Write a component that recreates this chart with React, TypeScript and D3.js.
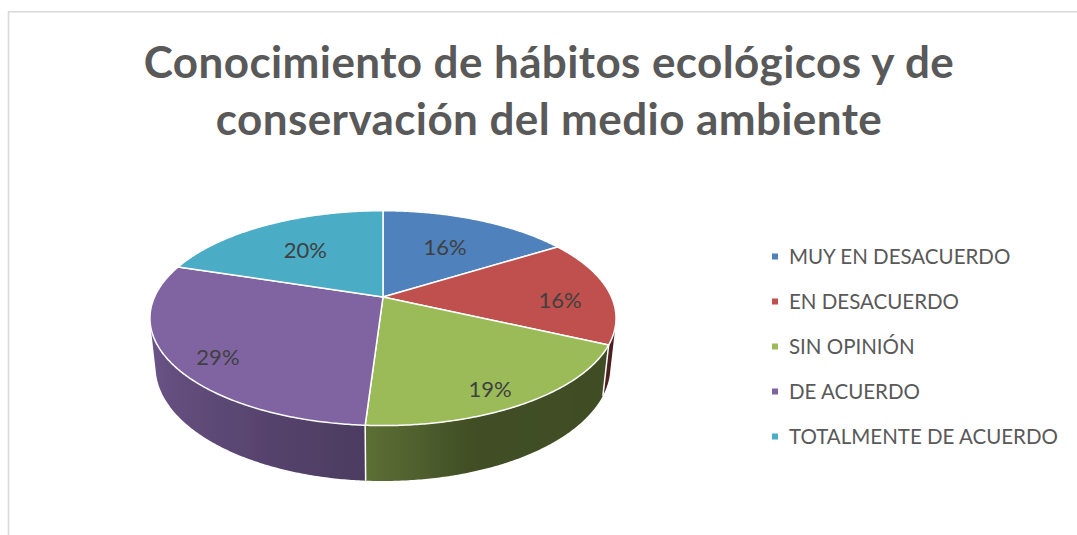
import React from 'react';
import * as d3 from 'd3';

const categories = ['MUY EN DESACUERDO', 'EN DESACUERDO', 'SIN OPINIÓN', 'DE ACUERDO', 'TOTALMENTE DE ACUERDO'];
const values = [16, 16, 19, 29, 20];
const colors = ['#4F81BD', '#C0504D', '#9BBB59', '#8064A2', '#4BACC6'];
const titleLines = ['Conocimiento de hábitos ecológicos y de', 'conservación del medio ambiente'];

const W = 1077, HGT = 535;
const FONT = 'Lato, "Open Sans", sans-serif';

// 3D perspective camera
const sinA = 0.452, cosA = Math.sqrt(1 - sinA * sinA);
const DIST = 4.53, FOC = 1035, DEPTH = 0.24;
const CX = 383, CY = 297;

function proj(phi: number, r: number, y: number): [number, number] {
  const x = r * Math.sin(phi);
  const z = -r * Math.cos(phi);
  const yu = y * cosA - z * sinA;
  const d = DIST - (y * sinA + z * cosA);
  return [CX + (FOC * x) / d, CY - (FOC * yu) / d];
}

// side lighting as a function of angle (degrees)
const shade = d3.scaleLinear<number>().domain([104, 162, 184, 256]).range([0.4, 0.42, 0.6, 0.86]).clamp(true);

function shadeColor(base: string, phi: number) {
  const c = d3.rgb(base);
  const k = shade((phi * 180) / Math.PI);
  return d3.rgb(c.r * k, c.g * k, c.b * k).formatHex();
}

export default function App() {
  const arcs = d3.pie<number>().sort(null).value((d) => d)(values);
  const visMin = Math.acos(-1 / (DIST * cosA));
  const visMax = 2 * Math.PI - visMin;
  const step = Math.PI / 360;

  const sample = (a0: number, a1: number) => {
    const n = Math.max(2, Math.ceil((a1 - a0) / step));
    return d3.range(n + 1).map((i) => a0 + ((a1 - a0) * i) / n);
  };

  const sides: any[] = [];
  const seams: any[] = [];
  arcs.forEach((a, i) => {
    const s = Math.max(a.startAngle, visMin);
    const e = Math.min(a.endAngle, visMax);
    if (e <= s) return;
    const angs = sample(s, e);
    const top = angs.map((p) => proj(p, 1, 0));
    const bot = angs.slice().reverse().map((p) => proj(p, 1, -DEPTH));
    const path = 'M' + top.concat(bot).map((p) => p.join(',')).join('L') + 'Z';
    const xs = angs.map((p) => proj(p, 1, 0)[0]);
    const x1 = xs[0], x2 = xs[xs.length - 1];
    const stops = angs
      .filter((_, k) => k % 6 === 0 || k === angs.length - 1)
      .map((p) => ({ off: (proj(p, 1, 0)[0] - x1) / (x2 - x1 || 1), col: shadeColor(colors[i], p) }));
    sides.push({ path, x1, x2, stops, id: 'side' + i });
    if (a.startAngle > visMin && a.startAngle < visMax) {
      seams.push([proj(a.startAngle, 1, 0), proj(a.startAngle, 1, -DEPTH)]);
    }
  });

  const tops = arcs.map((a, i) => {
    const pts = sample(a.startAngle, a.endAngle).map((p) => proj(p, 1, 0));
    const c = proj(0, 0, 0);
    return { path: 'M' + [c].concat(pts).map((p) => p.join(',')).join('L') + 'Z', color: colors[i] };
  });

  const labels = arcs.map((a) => {
    const mid = (a.startAngle + a.endAngle) / 2;
    const back = Math.max(0, Math.cos(mid));
    const r = 0.8 - 0.2 * back;
    const [x, y] = proj(mid, r, -0.045 * (1 - back));
    return { x, y, text: Math.round(a.value) + '%' };
  });

  const legendY = d3.scalePoint<string>().domain(categories).range([256.5, 436.5]);

  return (
    <svg width={W} height={HGT} style={{ position: 'fixed', left: 0, top: 0, background: '#fff' }}>
      <defs>
        {sides.map((s) => (
          <linearGradient key={s.id} id={s.id} gradientUnits="userSpaceOnUse" x1={s.x1} x2={s.x2} y1={0} y2={0}>
            {s.stops.map((st: any, k: number) => (
              <stop key={k} offset={Math.min(1, Math.max(0, st.off))} stopColor={st.col} />
            ))}
          </linearGradient>
        ))}
      </defs>
      <rect x={0} y={0} width={W} height={HGT} fill="#fff" />
      <path d={`M8.5,${HGT}L8.5,11.75L${W},11.75`} fill="none" stroke="#d9d9d9" strokeWidth={1.6} />
      {titleLines.map((t, i) => (
        <text key={i} x={549} y={78 + i * 57} textAnchor="middle" fontFamily={FONT} fontWeight={700} fontSize={44} letterSpacing={0.4} fill="#595959">
          {t}
        </text>
      ))}
      {sides.map((s) => (
        <path key={s.id} d={s.path} fill={`url(#${s.id})`} />
      ))}
      {seams.map((s, i) => (
        <line key={i} x1={s[0][0]} y1={s[0][1]} x2={s[1][0]} y2={s[1][1]} stroke="#fff" strokeWidth={1.5} />
      ))}
      {tops.map((t, i) => (
        <path key={i} d={t.path} fill={t.color} stroke="#fff" strokeWidth={1.5} strokeLinejoin="round" />
      ))}
      {labels.map((l, i) => (
        <text key={i} x={l.x} y={l.y} dy="0.35em" textAnchor="middle" fontFamily={FONT} fontSize={22} fill="#404040">
          {l.text}
        </text>
      ))}
      {categories.map((c, i) => (
        <g key={c} transform={`translate(0,${legendY(c)})`}>
          <rect x={772} y={-3} width={6} height={6} fill={colors[i]} />
          <text x={789} y={0} dy="0.36em" fontFamily={FONT} fontSize={20.5} fill="#595959">
            {c}
          </text>
        </g>
      ))}
    </svg>
  );
}
